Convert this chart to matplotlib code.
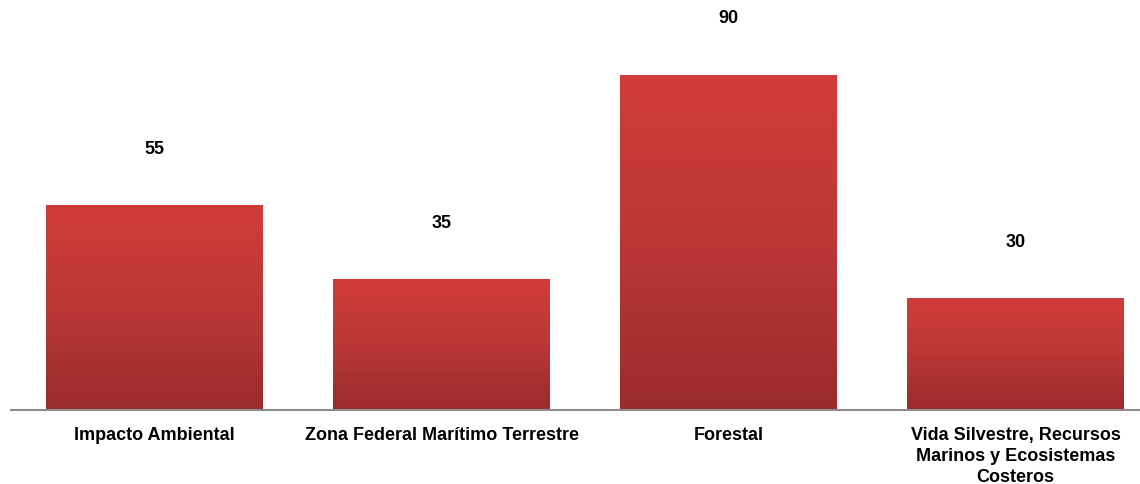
import numpy as np
import matplotlib.pyplot as plt
from matplotlib.colors import LinearSegmentedColormap

categorias = ['Impacto Ambiental', 'Zona Federal Marítimo Terrestre', 'Forestal',
              'Vida Silvestre, Recursos\nMarinos y Ecosistemas\nCosteros']
valores = [55, 35, 90, 30]

plt.rcParams['font.family'] = ['Liberation Sans', 'DejaVu Sans']

fig = plt.figure(figsize=(11.4, 4.85), dpi=100)
ax = fig.add_axes([11 / 1140, (485 - 410.5) / 485, 1129 / 1140, 410.5 / 485])

x = np.arange(len(valores))
bars = ax.bar(x, valores, width=0.756, color='none', edgecolor='none', zorder=2)

# degradado vertical en cada barra
cmap = LinearSegmentedColormap.from_list('rojo', ['#9b2b2c', '#bb3837', '#d03c39'])
grad = np.linspace(0, 1, 256).reshape(-1, 1)
for b in bars:
    x0, y0 = b.get_x(), b.get_y()
    w, h = b.get_width(), b.get_height()
    im = ax.imshow(grad, cmap=cmap, origin='lower', aspect='auto',
                   extent=[x0, x0 + w, y0, y0 + h], zorder=2)
    im.set_clip_path(b)

for xi, v in zip(x, valores):
    ax.text(xi, v + 15.2, str(v), ha='center', va='center',
            fontsize=13, fontweight='bold')

ax.set_xlim(-0.5, -0.5 + 1129 / 287)
ax.set_ylim(0, 110.3)
ax.set_xticks(x)
ax.set_xticklabels(categorias, fontsize=13, fontweight='bold', linespacing=1.32)
ax.tick_params(axis='x', length=0, pad=12)
ax.set_yticks([])
for s in ['top', 'right', 'left']:
    ax.spines[s].set_visible(False)
ax.spines['bottom'].set_color('#8c8c8c')
ax.spines['bottom'].set_linewidth(1.5)
ax.spines['bottom'].set_zorder(3)

fig.savefig('out.png', dpi=100)
